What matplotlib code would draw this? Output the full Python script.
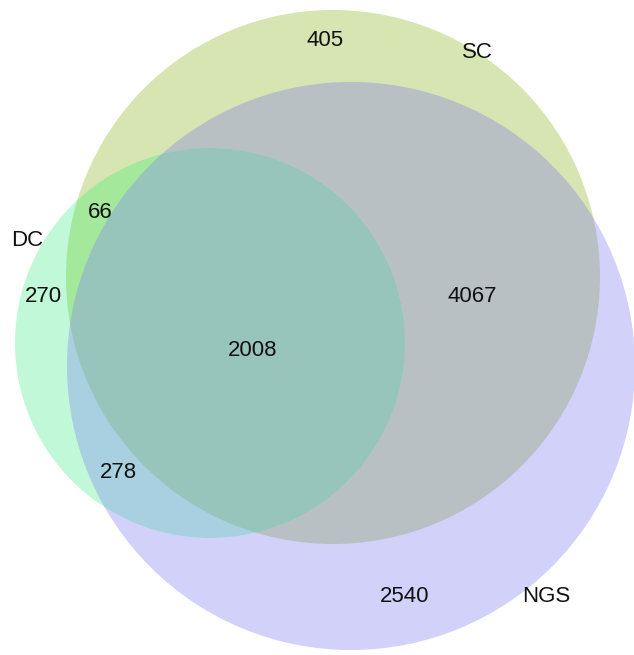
import numpy as np
import matplotlib.pyplot as plt
from matplotlib.patches import Circle, Polygon

# set names and region counts
set_names = ["SC", "DC", "NGS"]
region_names = ["SC only", "DC only", "NGS only", "SC&DC", "DC&NGS", "SC&NGS", "all"]
region_counts = [405, 270, 2540, 66, 278, 4067, 2008]

# layout in pixel coordinates (y down)
circles = {
    "SC": ((333, 277), 267),
    "NGS": ((351, 366), 284),
    "DC": ((210, 343), 195),
}
colors = {
    "SC": "#d6e5b1",
    "NGS": "#d1d1fa",
    "DC": "#c0f8d8",
    "SC&NGS": "#b8c0c4",
    "SC&DC": "#a3e89b",
    "DC&NGS": "#a9d0e0",
    "all": "#97c4bb",
}
count_pos = {
    "SC only": (325, 40), "DC only": (43, 297), "NGS only": (405, 597),
    "SC&DC": (100, 212), "DC&NGS": (118, 472), "SC&NGS": (472, 297),
    "all": (253, 351),
}
name_pos = {"SC": (477, 52), "DC": (27, 240), "NGS": (546, 597)}

plt.rcParams["font.family"] = ["Liberation Sans", "DejaVu Sans"]

fig = plt.figure(figsize=(6.34, 6.55), dpi=100)
ax = fig.add_axes([0, 0, 1, 1])
ax.set_xlim(0, 634)
ax.set_ylim(655, 0)
ax.set_aspect("equal")
ax.axis("off")


def circ(name, color, z):
    (cx, cy), r = circles[name]
    p = Circle((cx, cy), r, facecolor=color, edgecolor="none", zorder=z)
    ax.add_patch(p)
    return p


def lens(a, b):
    # intersection of two circles as a polygon
    (ax_, ay), ra = circles[a]
    (bx, by), rb = circles[b]
    t = np.linspace(0, 2 * np.pi, 1440)
    pa = np.c_[ax_ + ra * np.cos(t), ay + ra * np.sin(t)]
    pb = np.c_[bx + rb * np.cos(t), by + rb * np.sin(t)]
    pa = pa[np.hypot(pa[:, 0] - bx, pa[:, 1] - by) <= rb]
    pb = pb[np.hypot(pb[:, 0] - ax_, pb[:, 1] - ay) <= ra]
    pts = np.vstack([pa, pb])
    c = pts.mean(axis=0)
    order = np.argsort(np.arctan2(pts[:, 1] - c[1], pts[:, 0] - c[0]))
    return pts[order]


sc = circ("SC", colors["SC"], 1)
ngs = circ("NGS", colors["NGS"], 1)
circ("DC", colors["DC"], 1)

p = circ("NGS", colors["SC&NGS"], 2)
p.set_clip_path(sc)
p = circ("DC", colors["SC&DC"], 3)
p.set_clip_path(sc)
p = circ("DC", colors["DC&NGS"], 3)
p.set_clip_path(ngs)

sc_ngs = Polygon(lens("SC", "NGS"), facecolor="none", edgecolor="none")
ax.add_patch(sc_ngs)
p = circ("DC", colors["all"], 4)
p.set_clip_path(sc_ngs)

for name, n in zip(region_names, region_counts):
    x, y = count_pos[name]
    ax.text(x, y, str(n), ha="center", va="center", fontsize=16, color="#111111", zorder=10)

for name in set_names:
    x, y = name_pos[name]
    ax.text(x, y, name, ha="center", va="center", fontsize=16, color="#111111", zorder=10)

plt.savefig("out.png", dpi=100)
